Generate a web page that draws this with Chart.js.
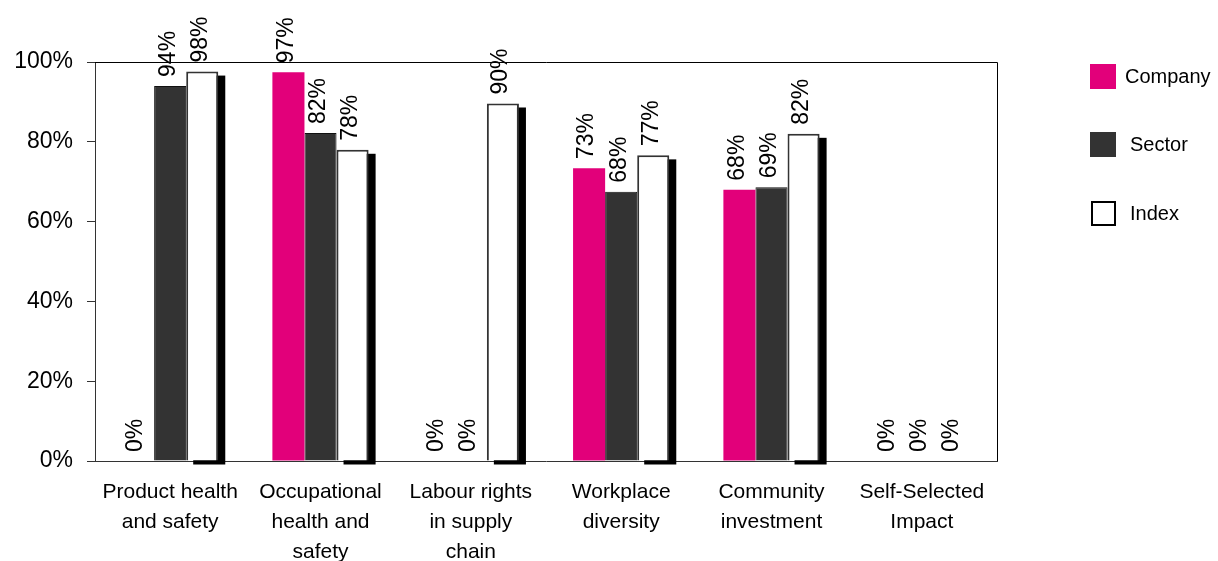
<!DOCTYPE html>
<html>
<head>
<meta charset="utf-8">
<script src="https://cdn.jsdelivr.net/npm/chart.js@4.4.1/dist/chart.umd.min.js"></script>
<style>
  html, body { margin: 0; padding: 0; background: #fff; }
  canvas { display: block; }
</style>
</head>
<body>
<canvas id="impactChart" width="1218" height="561"></canvas>
<script>
// data
const categories = [
    ['Product health', 'and safety'],
    ['Occupational', 'health and', 'safety'],
    ['Labour rights', 'in supply', 'chain'],
    ['Workplace', 'diversity'],
    ['Community', 'investment'],
    ['Self-Selected', 'Impact']
];
const companyValues = [0, 97.4, 0, 73.4, 68, 0];
const sectorValues = [94, 82.2, 0, 67.5, 68.6, 0];
const indexValues = [97.6, 78, 89.6, 76.6, 82, 0];
const yTicks = [0, 20, 40, 60, 80, 100];

const FONT = '"Liberation Sans", Arial, sans-serif';

// black drop shadow behind the Index bars
const shadowPlugin = {
    id: 'barShadow',
    beforeDatasetsDraw(chart) {
        const ctx = chart.ctx;
        const meta = chart.getDatasetMeta(2);
        ctx.save();
        ctx.fillStyle = '#000';
        meta.data.forEach((bar, i) => {
            if (!indexValues[i]) return;
            const w = bar.width;
            ctx.fillRect(bar.x - w / 2 + 7, bar.y + 4, w, bar.base - bar.y);
        });
        ctx.restore();
    }
};

// rotated value labels above each bar
const labelPlugin = {
    id: 'valueLabels',
    afterDatasetsDraw(chart) {
        const ctx = chart.ctx;
        ctx.save();
        ctx.font = '23px ' + FONT;
        ctx.fillStyle = '#000';
        ctx.textAlign = 'left';
        ctx.textBaseline = 'middle';
        chart.data.datasets.forEach((ds, di) => {
            chart.getDatasetMeta(di).data.forEach((bar, i) => {
                ctx.save();
                ctx.translate(bar.x - 2, bar.y - 9);
                ctx.rotate(-Math.PI / 2);
                ctx.fillText(Math.round(ds.data[i]) + '%', 0, 0);
                ctx.restore();
            });
        });
        ctx.restore();
    }
};

// plot frame + legend on the right
const framePlugin = {
    id: 'frameLegend',
    afterDraw(chart) {
        const ctx = chart.ctx;
        const a = chart.chartArea;
        ctx.save();
        ctx.strokeStyle = '#000';
        ctx.lineWidth = 1;
        ctx.beginPath();
        ctx.moveTo(a.left, a.top + 0.5);
        ctx.lineTo(a.right + 0.5, a.top + 0.5);
        ctx.lineTo(a.right + 0.5, a.bottom);
        ctx.stroke();

        const items = [
            { text: 'Company', fill: '#E2007A', stroke: null, y: 64, tx: 1125 },
            { text: 'Sector', fill: '#333333', stroke: null, y: 132, tx: 1130 },
            { text: 'Index', fill: '#ffffff', stroke: '#000', y: 201, tx: 1130 }
        ];
        ctx.font = '20px ' + FONT;
        ctx.textBaseline = 'middle';
        items.forEach(it => {
            ctx.fillStyle = it.fill;
            ctx.fillRect(1090, it.y, 26, 25);
            if (it.stroke) {
                ctx.strokeStyle = it.stroke;
                ctx.lineWidth = 2;
                ctx.strokeRect(1092, it.y + 1, 23, 23);
            }
            ctx.fillStyle = '#000';
            ctx.fillText(it.text, it.tx, it.y + 13);
        });
        ctx.restore();
    }
};

new Chart(document.getElementById('impactChart'), {
    type: 'bar',
    data: {
        labels: categories,
        datasets: [
            { label: 'Company', data: companyValues, backgroundColor: '#E2007A', borderWidth: 0 },
            { label: 'Sector', data: sectorValues, backgroundColor: '#333333', borderColor: '#111', borderWidth: 1 },
            { label: 'Index', data: indexValues, backgroundColor: '#ffffff', borderColor: '#333', borderWidth: 2 }
        ]
    },
    options: {
        responsive: false,
        animation: false,
        devicePixelRatio: 1,
        layout: { padding: { left: 0, top: 62, right: 221, bottom: 0 } },
        datasets: { bar: { categoryPercentage: 0.64, barPercentage: 1.0 } },
        plugins: { legend: { display: false }, tooltip: { enabled: false } },
        scales: {
            x: {
                grid: { display: false, drawTicks: false },
                border: { display: true, color: '#333', width: 1 },
                ticks: {
                    color: '#000',
                    padding: 16,
                    maxRotation: 0,
                    autoSkip: false,
                    font: { family: FONT, size: 21, lineHeight: 1.43 }
                },
                afterFit(scale) { scale.height = 100; }
            },
            y: {
                min: 0,
                max: 100,
                afterBuildTicks(scale) { scale.ticks = yTicks.map(v => ({ value: v })); },
                grid: { drawOnChartArea: false, drawTicks: true, tickLength: 8, color: '#333' },
                border: { display: true, color: '#333', width: 1 },
                ticks: {
                    color: '#000',
                    padding: 14,
                    font: { family: FONT, size: 23 },
                    callback: v => v + '%'
                },
                afterFit(scale) { scale.width = 95; }
            }
        }
    },
    plugins: [shadowPlugin, labelPlugin, framePlugin]
});
</script>
</body>
</html>
